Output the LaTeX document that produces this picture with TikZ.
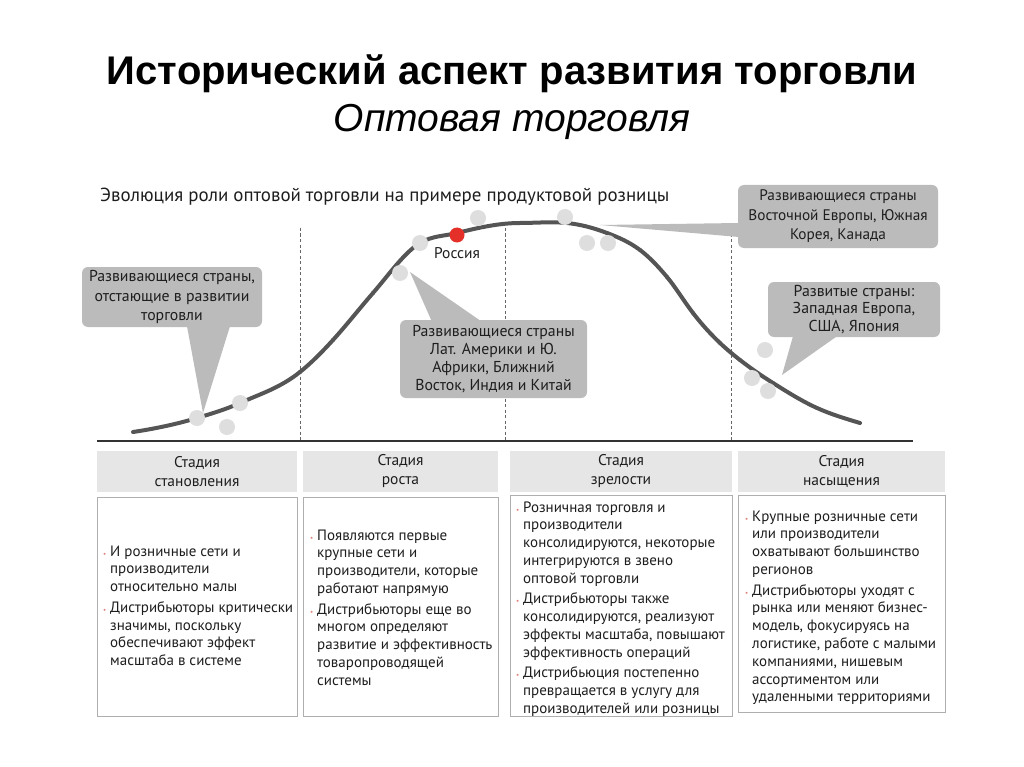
\documentclass[tikz,border=0pt]{standalone}
\usepackage{fontspec}
\setmainfont{PT Sans}
\newfontfamily\titlefont{Liberation Sans}
\usepackage{tikz}
\usetikzlibrary{positioning}
\usetikzlibrary{calc}
\definecolor{curvegray}{RGB}{85,85,85}
\definecolor{dotgray}{RGB}{222,222,222}
\definecolor{rusred}{RGB}{228,48,40}
\definecolor{callgray}{RGB}{187,187,187}
\definecolor{headgray}{RGB}{230,230,230}
\definecolor{boxgray}{RGB}{175,175,175}
\definecolor{bulred}{RGB}{222,130,120}
\definecolor{txt}{RGB}{30,30,30}
\newcommand\bul{\textcolor{bulred}{\scriptsize\textbullet}}

\begin{document}
\begin{tikzpicture}[x=1pt,y=-1pt,
text=txt,
curve/.style={line width=4pt,curvegray,line cap=round},
dot/.style={circle,fill=dotgray,inner sep=0,minimum size=16pt},
callout/.style={
  rounded corners=6pt,
  fill=callgray,
  align=center,
  inner sep=0},
stagehead/.style={fill=headgray,align=center,inner sep=0,
  minimum height=41pt,font=\fontsize{15.5}{19}\selectfont},
stagebox/.style={draw=boxgray,fill=white,inner sep=0},
stagetext/.style={anchor=north west,inner sep=0,
  font=\fontsize{15}{17.8}\selectfont}
]
\useasboundingbox (0,0) rectangle (1024,767);
\fill[white] (0,0) rectangle (1024,767);

% titles
\node[anchor=base,font=\titlefont\bfseries\fontsize{40}{44}\selectfont,text=black] (title) at (512,85) {Исторический аспект развития торговли};
\node[anchor=base,font=\titlefont\itshape\fontsize{39}{44}\selectfont,text=black] (subtitle) at (512,132) {Оптовая торговля};
\node[anchor=west,inner sep=0,font=\fontsize{18.9}{22}\selectfont] (caption) at (100,197) {Эволюция роли оптовой торговли на примере продуктовой розницы};

% axis and stage borders
\draw[line width=1.5pt,black!80] (97,441) -- (913,441);
\foreach \xx in {300,505,731}
  \draw[dashed,black!60,dash pattern=on 3pt off 2.5pt] (\xx,228) -- (\xx,441);

% life cycle curve, piece by piece (x/y/slope)
\foreach \xa/\ya/\ma/\xb/\yb/\mb in {
  133/432/0.15/197/418/0.3, 197/418/0.3/240/403/0.45,
  240/403/0.45/300/372/0.8, 300/372/0.8/333/340/1.1,
  333/340/1.1/373/293/1.15, 373/293/1.15/420/243/0.6,
  420/243/0.6/457/233/0.25, 457/233/0.25/520/223/0,
  520/223/0/567/223/-0.1, 567/223/-0.1/607/233/-0.38,
  607/233/-0.38/640/250/-0.75, 640/250/-0.75/667/277/-1.2,
  667/277/-1.2/693/313/-1.3, 693/313/-1.3/720/343/-0.95,
  720/343/-0.95/740/360/-0.78, 740/360/-0.78/773/383/-0.63,
  773/383/-0.63/817/408/-0.45, 817/408/-0.45/860/423/-0.3}
{
  \pgfmathsetmacro\dd{(\xb-\xa)/3}
  \draw[curve] (\xa,\ya) .. controls ({\xa+\dd},{\ya-\ma*\dd}) and ({\xb-\dd},{\yb+\mb*\dd}) .. (\xb,\yb);
}

% countries
\node[dot] (d1) at (197,418) {};
\node[dot] (d2) at (227,427) {};
\node[dot] (d3) at (240,403) {};
\node[dot] (d4) at (400,273) {};
\node[dot] (d5) at (420,243) {};
\node[dot] (d6) at (478,218) {};
\node[dot] (d7) at (565,217) {};
\node[dot] (d8) at (587,243) {};
\node[dot] (d9) at (608,243) {};
\node[dot] (d10) at (765,350) {};
\node[dot] (d11) at (752,378) {};
\node[dot] (d12) at (768,391) {};
\node[circle,fill=rusred,inner sep=0,minimum size=15pt] (rus) at (457,235) {};
\node[below=5pt of rus,inner sep=0,font=\fontsize{15.5}{18}\selectfont] (ruslabel) {Россия};

% callouts
\node[callout,minimum width=180pt,minimum height=60pt,font=\fontsize{15.8}{19.5}\selectfont] (c1) at (172,297)
  {Развивающиеся страны,\\отстающие в развитии\\торговли};
\node[callout,minimum width=187pt,minimum height=78pt,font=\fontsize{15.8}{18}\selectfont] (c2) at (493.5,359)
  {Развивающиеся страны\\Лат. Америки и Ю.\\Африки, Ближний\\Восток, Индия и Китай};
\node[callout,minimum width=200pt,minimum height=63pt,font=\fontsize{15.3}{19.5}\selectfont] (c3) at (838,216.5)
  {Развивающиеся страны\\Восточной Европы, Южная\\Корея, Канада};
\node[callout,minimum width=172pt,minimum height=55pt,font=\fontsize{15.8}{17.5}\selectfont] (c4) at (854,309.5)
  {Развитые страны:\\Западная Европа,\\США, Япония};

\coordinate (tip1) at (203,413);
\coordinate (tip2) at (410,272);
\coordinate (tip3) at (600,225);
\coordinate (tip4) at (782,375);
\fill[callgray] ([xshift=15pt,yshift=1pt]c1.south) -- (tip1) -- ([xshift=58pt,yshift=1pt]c1.south) -- cycle;
\fill[callgray] ([xshift=-62pt,yshift=-1pt]c2.north) -- (tip2) -- ([xshift=-13pt,yshift=-1pt]c2.north) -- cycle;
\fill[callgray] ([xshift=1pt,yshift=-6.5pt]c3.west) -- (tip3) -- ([xshift=1pt,yshift=-20.5pt]c3.west) -- cycle;
\fill[callgray] ([xshift=-61pt,yshift=1pt]c4.south) -- (tip4) -- ([xshift=-17pt,yshift=1pt]c4.south) -- cycle;

% stages
\node[stagehead,minimum width=200pt] (h1) at (197,471.5) {Стадия\\становления};
\node[stagehead,minimum width=195pt] (h2) at (400.5,471.5) {Стадия\\роста};
\node[stagehead,minimum width=222pt] (h3) at (621,471.5) {Стадия\\зрелости};
\node[stagehead,minimum width=207pt] (h4) at (841.5,471.5) {Стадия\\насыщения};

\node[stagebox,minimum width=200pt,minimum height=219pt] (b1) at (197,606.5) {};
\node[stagebox,minimum width=195pt,minimum height=219pt] (b2) at (400.5,606.5) {};
\node[stagebox,minimum width=222pt,minimum height=221pt] (b3) at (621,605.5) {};
\node[stagebox,minimum width=207pt,minimum height=217pt] (b4) at (841.5,603.5) {};

\node[stagetext] (t1) at (103,543.5) {\begin{tabular}{@{}p{7pt}@{}l@{}}
\bul & И розничные сети и\\ & производители\\ & относительно малы\\[2.7pt]
\bul & Дистрибьюторы критически\\ & значимы, поскольку\\ & обеспечивают эффект\\ & масштаба в системе
\end{tabular}};
\node[stagetext] (t2) at (310,527.5) {\begin{tabular}{@{}p{7pt}@{}l@{}}
\bul & Появляются первые\\ & крупные сети и\\ & производители, которые\\ & работают напрямую\\[2.7pt]
\bul & Дистрибьюторы еще во\\ & многом определяют\\ & развитие и эффективность\\ & товаропроводящей\\ & системы
\end{tabular}};
\node[stagetext] (t3) at (516,499.5) {\begin{tabular}{@{}p{7pt}@{}l@{}}
\bul & Розничная торговля и\\ & производители\\ & консолидируются, некоторые\\ & интегрируются в звено\\ & оптовой торговли\\[2.7pt]
\bul & Дистрибьюторы также\\ & консолидируются, реализуют\\ & эффекты масштаба, повышают\\ & эффективность операций\\[2.7pt]
\bul & Дистрибьюция постепенно\\ & превращается в услугу для\\ & производителей или розницы
\end{tabular}};
\node[stagetext] (t4) at (745,508.5) {\begin{tabular}{@{}p{7pt}@{}l@{}}
\bul & Крупные розничные сети\\ & или производители\\ & охватывают большинство\\ & регионов\\[2.7pt]
\bul & Дистрибьюторы уходят с\\ & рынка или меняют бизнес-\\ & модель, фокусируясь на\\ & логистике, работе с малыми\\ & компаниями, нишевым\\ & ассортиментом или\\ & удаленными территориями
\end{tabular}};
\end{tikzpicture}
\end{document}
